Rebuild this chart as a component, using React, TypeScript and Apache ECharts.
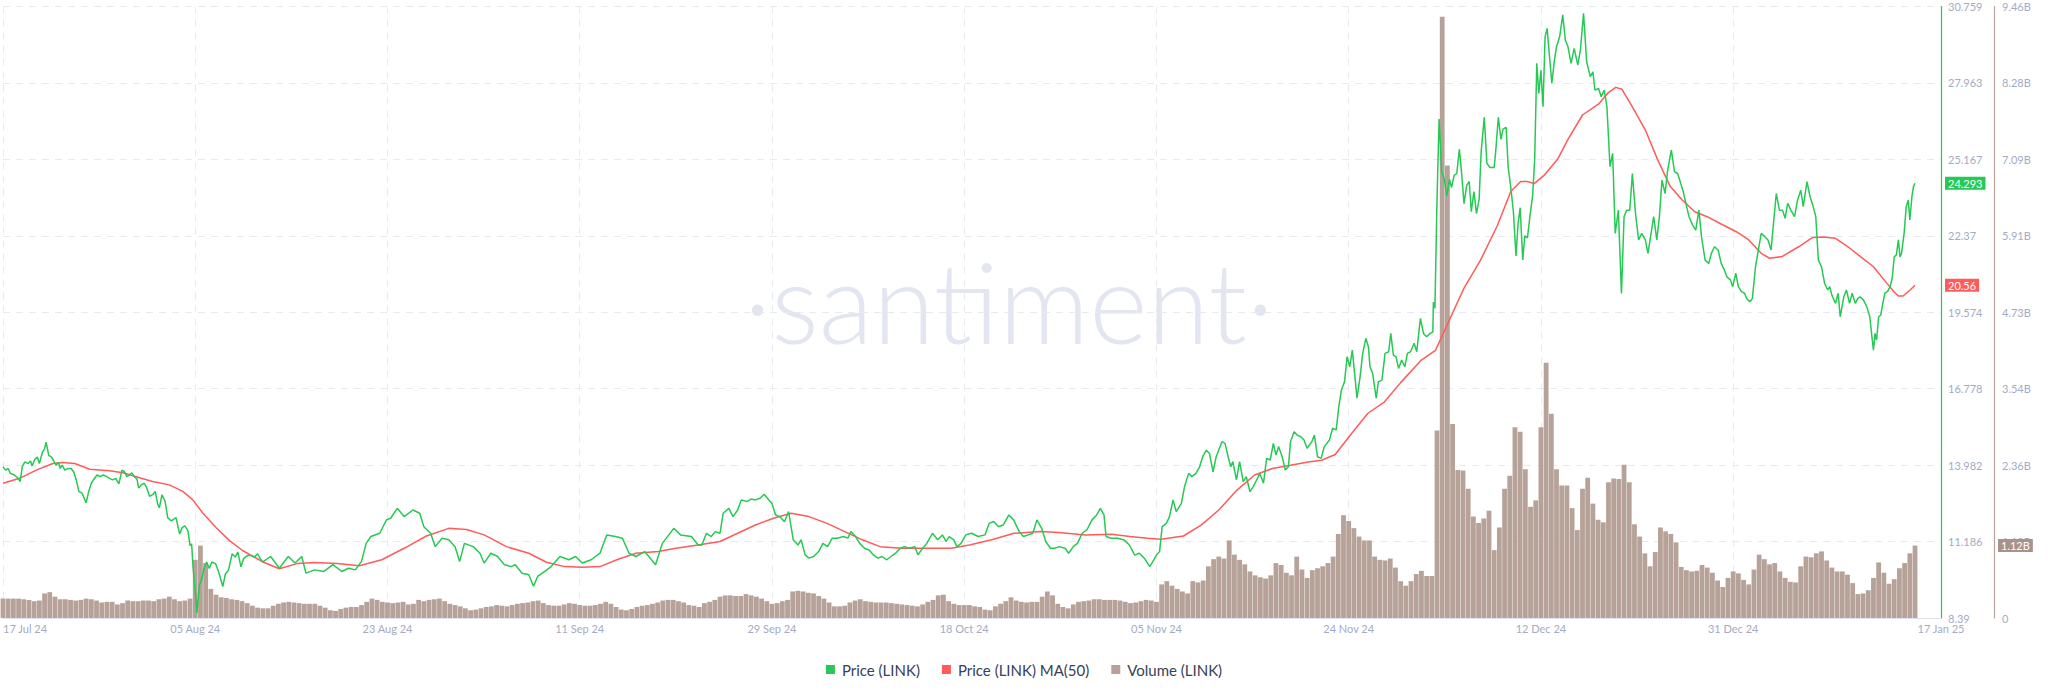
import React, { useEffect, useRef } from "react";
import * as echarts from "echarts";

// x unit: half-day steps counted from 17 Jul 24 12:00 (index 368 = 17 Jan 25 12:00)
const xTickIndex = [0, 37, 74, 111, 148, 185, 222, 259, 296, 333, 373];
const xTickLabels = [
  "17 Jul 24", "05 Aug 24", "23 Aug 24", "11 Sep 24", "29 Sep 24", "18 Oct 24",
  "05 Nov 24", "24 Nov 24", "12 Dec 24", "31 Dec 24", "17 Jan 25",
];
const priceTickLabels = ["8.39", "11.186", "13.982", "16.778", "19.574", "22.37", "25.167", "27.963", "30.759"];
const volumeTickLabels = ["0", "1.18B", "2.36B", "3.54B", "4.73B", "5.91B", "7.09B", "8.28B", "9.46B"];
const priceMin = 8.39;
const priceMax = 30.759;
const volumeMax = 9.46;

// Price (LINK): [half-day index, USD]
const price: [number, number][] = [
  [0,13.92],[0.5,13.80],[1.0,13.86],[1.4,13.68],[2.2,13.62],[2.9,13.50],[3.3,13.38],[3.7,13.92],[4.2,14.10],[4.8,14.04],
  [5.3,14.13],[5.6,13.95],[6.1,14.19],[6.6,14.28],[7.0,14.04],[7.6,14.46],[8.0,14.58],[8.3,14.82],[8.8,14.34],[9.3,14.28],
  [9.7,14.16],[10.2,13.98],[10.7,14.08],[11.0,13.86],[11.4,13.98],[11.9,13.80],[12.5,13.86],[13.1,13.86],[13.6,13.74],[14.1,13.44],
  [14.6,13.02],[15.2,12.96],[16.0,12.60],[16.5,13.02],[17.0,13.32],[17.4,13.44],[18.1,13.62],[18.7,13.56],[19.3,13.62],[20.0,13.56],
  [20.5,13.50],[21.1,13.44],[21.7,13.50],[22.3,13.30],[22.9,13.80],[23.4,13.74],[23.8,13.56],[24.3,13.62],[24.8,13.70],[25.3,13.56],
  [25.8,13.47],[26.1,13.14],[26.6,13.26],[27.2,13.32],[27.7,13.14],[28.2,12.84],[28.8,12.90],[29.3,13.02],[29.8,12.54],[30.1,12.42],
  [30.6,12.90],[31.2,12.66],[31.7,12.06],[32.4,11.94],[32.8,12.00],[33.3,12.06],[34.0,11.46],[34.5,11.70],[35.0,11.76],[35.6,11.58],
  [36.0,11.04],[36.3,11.10],[36.6,10.20],[37.0,9.36],[37.3,8.58],[37.8,9.60],[38.3,9.84],[38.7,10.20],[39.2,10.44],[39.7,10.20],
  [40.2,10.44],[40.9,10.38],[41.5,10.08],[42.3,9.54],[42.8,10.00],[43.4,10.14],[44.1,10.74],[44.7,10.62],[45.2,10.80],[45.8,10.26],
  [46.3,10.56],[47.1,10.68],[47.7,10.68],[48.4,10.62],[49.0,10.74],[49.5,10.56],[50.0,10.44],
  [51.5,10.64],[53.2,10.21],[54.9,10.64],[56.2,10.40],[57.5,10.64],[58.3,10.03],[60.0,10.15],[61.7,10.09],[63.5,10.34],[65.2,10.09],
  [66.5,10.21],[67.8,10.15],[69.0,10.46],[69.9,11.12],[70.8,11.37],[72.5,11.49],[73.8,11.98],[74.6,12.04],[75.9,12.40],[77.2,12.10],
  [78.9,12.34],[80.2,12.22],[81.0,11.73],[82.3,11.49],[83.2,11.00],[84.5,11.31],[85.8,11.25],[87.0,11.00],[87.9,10.46],[88.8,11.12],
  [90.5,11.00],[91.8,10.76],[92.6,10.40],[93.9,10.76],[95.2,10.64],[96.5,10.34],[97.8,10.27],[98.6,10.34],[99.9,10.03],[101.2,9.97],
  [102.1,9.55],[102.9,9.91],[104.2,10.09],[105.5,10.27],[107.2,10.64],[108.9,10.52],[110.2,10.64],[111.5,10.40],[113.2,10.52],[114.9,10.76],
  [116.2,11.43],[117.9,11.37],[119.2,11.31],[120.5,10.76],[121.8,10.64],[123.5,10.82],[125.6,10.34],[126.9,11.12],[129.1,11.67],[130.4,11.43],
  [132.5,11.37],[133.8,11.06],
  [134.5,11.06],[135.4,11.49],[136.3,11.37],[137.1,11.55],[138.0,11.49],[138.6,12.22],[139.7,12.40],[140.5,12.10],[141.4,12.34],[142.1,12.71],
  [143.1,12.65],[144.0,12.74],[144.8,12.71],[145.7,12.77],[146.5,12.92],[147.4,12.71],[148.0,12.58],[148.7,12.16],[149.5,12.10],[150.4,11.91],
  [151.2,12.28],[152.1,11.25],[153.0,11.06],[153.6,11.25],[154.4,10.70],[155.1,10.58],[156.0,10.64],[157.0,10.82],[157.8,11.12],[158.7,11.00],
  [159.6,11.31],[160.6,11.31],[161.8,11.37],[162.6,11.31],[163.2,11.55],[164.1,11.37],[164.9,11.12],[165.8,10.94],[166.7,10.88],[167.5,10.70],
  [168.4,10.58],[169.2,10.64],[170.1,10.52],[170.9,10.64],[171.8,10.76],[172.7,10.94],[173.5,11.00],[174.4,10.94],[175.5,11.00],[176.1,10.70],
  [177.0,10.94],[177.8,11.12],[178.9,11.49],[179.9,11.25],[180.8,11.43],[181.5,11.19],[182.1,11.37],[183.0,11.25],[183.6,11.00],[184.4,11.12],
  [185.3,11.43],[186.4,11.49],[187.7,11.37],[189.0,11.43],[189.8,11.85],[190.7,11.92],[191.6,11.73],[192.5,11.79],[193.6,12.16],[194.5,11.98],
  [195.6,11.55],[196.4,11.37],[197.3,11.43],[198.2,11.49],[199.0,11.98],[199.9,11.67],[200.7,11.19],[201.6,10.94],[202.4,10.94],[203.3,11.00],
  [204.4,10.94],[205.1,10.76],[206.0,11.00],[206.8,11.12],[207.7,11.49],[208.6,11.61],[209.6,11.98],[210.5,12.16],[211.2,12.40],[211.9,12.16],
  [212.3,11.37],[213.3,11.31],[214.6,11.31],[215.8,11.24],[216.8,11.06],[217.8,10.69],[218.7,10.76],[219.7,10.57],[220.7,10.27],[221.3,10.45],
  [222.0,10.69],[222.6,10.82],[223.1,11.73],[223.9,11.85],[224.5,12.09],[225.2,12.71],[225.8,12.28],[226.8,12.58],[227.4,13.19],[228.2,13.68],
  [228.8,13.56],[229.6,13.68],[230.3,13.92],[230.9,14.29],[231.6,14.53],[232.2,14.41],[232.9,13.74],[233.5,14.29],[234.6,14.84],[235.2,14.78],
  [235.8,14.29],[236.3,13.92],[236.7,14.11],[237.4,13.44],[238.0,14.11],[238.7,13.38],[239.3,13.56],[240.0,13.01],[240.6,13.19],[241.3,13.44],
  [241.9,13.68],[242.6,13.32],[243.2,14.23],[243.9,14.17],[244.5,14.78],[245.0,14.35],[245.5,14.66],[246.2,14.29],[246.8,13.80],[247.4,13.92],
  [247.8,14.84],[248.5,15.20],[249.1,15.08],[249.8,15.02],[250.4,14.90],[251.0,14.60],[251.9,14.84],[252.4,15.08],[253.0,14.29],[253.7,14.23],
  [254.3,14.66],[255.3,14.90],[255.9,15.33],[256.6,15.27],[257.1,16.12],[257.6,16.73],[258.2,17.03],[258.7,17.95],[259.2,17.58],[259.7,18.19],
  [260.2,17.22],[260.6,16.43],[261.2,17.22],[261.7,18.07],[262.3,18.62],[262.8,18.31],[263.1,17.58],[263.6,17.34],[264.3,16.43],[264.7,17.03],
  [265.4,17.09],[266.0,18.07],[266.7,18.13],[267.1,18.80],[267.6,18.01],[268.1,17.95],[268.6,17.52],[269.2,17.83],[269.8,17.58],[270.3,18.07],
  [270.9,18.13],[271.6,18.44],[272.1,18.13],[272.8,19.35],[273.4,18.80],[274.0,18.68],[274.7,18.80],[275.2,18.86],
  [275.3,19.94],[275.6,19.72],[276.0,23.70],[276.4,26.64],[276.9,24.73],[277.4,24.43],[277.9,23.84],[278.4,24.43],[278.8,24.14],[279.3,24.58],
  [279.8,24.65],[280.3,25.53],[280.7,24.73],[281.2,23.55],[281.7,24.21],[282.2,24.36],[282.6,23.25],[283.1,23.99],[283.6,23.18],[284.1,23.70],
  [284.5,25.46],[285.1,26.71],[285.6,25.02],[286.2,24.87],[287.0,24.87],[287.3,25.46],[287.8,26.71],[288.3,25.90],[288.7,26.27],[289.3,26.34],
  [289.7,24.87],[290.2,24.14],[290.7,23.25],[291.2,21.63],[291.6,22.81],[292.0,23.40],[292.5,21.49],[292.9,22.37],[293.4,22.29],[293.9,23.11],
  [294.4,23.84],[294.8,25.17],
  [295.2,28.68],[295.6,27.58],[296.0,28.43],[296.4,27.09],[296.8,29.65],[297.2,29.96],[297.6,29.04],[298.1,27.95],[298.6,28.80],[299.0,29.29],
  [299.6,29.65],[300.2,30.45],[300.7,29.53],[301.2,29.29],[301.8,28.68],[302.4,29.23],[303.1,28.62],[303.6,29.17],[304.2,30.51],[304.8,28.74],
  [305.5,28.19],[306.0,28.37],[306.4,27.70],[307.1,27.76],[307.6,27.46],[308.2,27.70],[308.7,27.09],[309.3,24.90],[309.8,25.39],[310.3,22.46],
  [310.9,23.31],[311.5,20.26],[312.0,23.07],[312.5,23.31],[313.1,23.31],[313.6,24.65],[314.2,23.19],[314.8,22.22],[315.4,22.46],[316.1,22.22],
  [316.6,21.73],[317.2,22.46],[317.7,23.07],[318.3,22.22],[318.8,23.07],[319.3,24.41],[319.9,23.92],[320.4,24.78],[321.1,25.51],[321.7,24.72],
  [322.3,24.65],[322.9,24.29],[323.4,23.98],[323.9,23.56],[324.5,23.07],[325.2,22.76],[325.8,22.58],[326.4,23.31],[326.9,22.34],[327.6,21.48],
  [328.3,21.36],[328.8,21.73],[329.4,21.97],[330.1,21.85],[330.7,21.36],[331.3,21.12],[331.8,20.87],[332.5,20.75],[332.9,20.51],[333.5,21.00],
  [334.0,20.51],[334.6,20.33],[335.2,20.27],[335.6,20.08],[336.2,19.96],[336.7,20.08],[337.3,21.24],[337.9,21.91],[338.4,22.46],[339.1,22.34],
  [339.7,22.22],[340.3,21.85],[340.7,22.70],[341.3,23.92],[341.9,23.31],[342.5,23.31],[343.0,23.01],[343.5,23.56],[344.1,23.31],[344.8,23.07],
  [345.4,23.68],[346.0,24.04],[346.5,23.44],[347.2,24.35],[347.8,23.80],[348.4,23.44],[348.9,23.07],[349.4,21.48],[350.0,21.24],[350.6,20.63],
  [351.2,20.39],[351.6,20.51],[352.0,20.20],[352.7,19.90],[353.2,20.27],[353.6,19.41],[354.3,20.14],[354.8,20.39],[355.4,19.90],[355.9,20.27],
  [356.5,19.90],[357.0,20.08],
  [357.4,20.14],[358.1,20.02],[358.7,19.78],[359.3,19.41],[359.7,18.68],[360.0,18.19],[360.3,18.80],[360.6,18.56],[361.0,19.41],[361.4,19.47],
  [361.8,19.90],[362.2,20.27],[362.7,20.33],[363.2,20.51],[363.6,20.81],[364.0,21.60],[364.4,21.67],[364.8,22.22],[365.1,21.60],[365.4,21.73],
  [365.9,22.46],[366.3,23.43],[366.7,23.68],[367.0,22.95],[367.4,23.80],[367.7,24.17],[368,24.293],
];

// Price (LINK) MA(50): [half-day index, USD]
const ma50: [number, number][] = [
  [0,13.32],[3.2,13.50],[6.4,13.80],[9.6,14.04],[11.5,14.08],[13.8,14.04],[16.7,13.83],[20.5,13.78],[23.1,13.70],[25.6,13.56],
  [28.8,13.38],[32.0,13.26],[34.6,13.02],[36.5,12.72],[38.4,12.24],[41.0,11.70],[43.6,11.22],[46.1,10.86],[50.0,10.44],[53.2,10.19],
  [56.6,10.38],[60.0,10.42],[64.3,10.38],[68.6,10.30],[72.9,10.52],[77.2,10.94],[81.5,11.39],[85.8,11.67],[89.2,11.63],[92.6,11.43],
  [96.9,11.00],[101.2,10.76],[104.6,10.43],[108.1,10.27],[111.5,10.25],[114.9,10.27],[118.4,10.54],[121.8,10.76],[126.1,10.82],[129.5,10.94],
  [133.8,11.06],[138.0,11.19],[141.4,11.49],[144.8,11.79],[148.3,12.04],[151.7,12.22],[155.1,12.10],[158.6,11.85],[162.0,11.55],[165.4,11.25],
  [168.8,11.00],[173.1,10.94],[177.4,10.94],[182.5,10.94],[186.0,11.06],[190.3,11.25],[194.6,11.49],[199.7,11.55],[203.2,11.52],[208.3,11.43],
  [213.4,11.45],[216.9,11.37],[220.3,11.31],[222.9,11.27],[227.2,11.39],[230.6,11.79],[234.0,12.34],[237.5,13.07],[240.9,13.62],[244.3,13.86],
  [247.8,13.98],[251.2,14.10],[253.8,14.16],[256.4,14.37],[259.6,15.15],[262.7,15.88],[265.9,16.30],[269.0,17.00],[272.9,17.81],[275.7,18.18],
  [278.0,19.13],[281.2,20.46],[284.4,21.49],[287.6,22.74],[290.2,23.99],[292.1,24.36],[293.4,24.36],[294.7,24.28],[296.6,24.58],[299.2,25.17],
  [301.2,25.90],[304.0,26.79],[307.2,27.21],[308.8,27.58],[310.4,27.80],[311.6,27.73],[313.6,27.09],[316.1,26.24],[318.5,25.14],[320.9,24.17],
  [323.2,23.68],[325.6,23.25],[328.0,23.07],[330.4,22.83],[333.6,22.52],[336.0,22.22],[338.4,21.73],[340.0,21.55],[342.4,21.61],[345.6,21.97],
  [348.3,22.31],[350.3,22.33],[352.7,22.28],[355.1,21.97],[357.5,21.61],[360.0,21.24],[362.6,20.63],[363.9,20.33],[364.8,20.17],[365.7,20.17],
  [367.0,20.38],[368,20.56],
];

// Volume (LINK), billions, one bar per half-day index 0..368
const volume: number[] = [
  0.30,0.30,0.30,0.30,0.29,0.28,0.26,0.27,0.38,0.40,
  0.33,0.29,0.29,0.28,0.27,0.28,0.30,0.29,0.27,0.24,
  0.25,0.25,0.21,0.23,0.27,0.26,0.26,0.27,0.27,0.26,
  0.29,0.30,0.33,0.29,0.26,0.27,0.30,0.90,1.12,0.85,
  0.45,0.36,0.32,0.31,0.29,0.28,0.26,0.23,0.19,0.16,
  0.15,0.15,0.19,0.22,0.24,0.25,0.24,0.23,0.22,0.22,
  0.22,0.19,0.16,0.12,0.11,0.14,0.16,0.17,0.17,0.20,
  0.25,0.30,0.28,0.25,0.24,0.23,0.24,0.25,0.21,0.22,
  0.28,0.26,0.28,0.29,0.30,0.26,0.22,0.20,0.18,0.15,
  0.12,0.13,0.15,0.17,0.18,0.20,0.19,0.18,0.20,0.22,
  0.23,0.24,0.26,0.27,0.23,0.20,0.19,0.19,0.21,0.23,
  0.22,0.20,0.19,0.19,0.20,0.22,0.25,0.22,0.17,0.13,
  0.12,0.14,0.17,0.19,0.20,0.22,0.24,0.27,0.28,0.28,
  0.26,0.24,0.20,0.19,0.17,0.23,0.25,0.28,0.33,0.35,
  0.35,0.34,0.34,0.37,0.35,0.33,0.30,0.26,0.22,0.23,
  0.26,0.28,0.41,0.42,0.41,0.39,0.38,0.34,0.30,0.24,
  0.18,0.18,0.19,0.24,0.27,0.29,0.26,0.25,0.24,0.24,
  0.24,0.23,0.22,0.21,0.20,0.19,0.18,0.21,0.25,0.28,
  0.35,0.36,0.26,0.22,0.20,0.20,0.20,0.18,0.17,0.13,
  0.12,0.18,0.22,0.26,0.32,0.27,0.25,0.24,0.25,0.25,
  0.33,0.41,0.35,0.22,0.17,0.15,0.21,0.25,0.26,0.27,
  0.29,0.29,0.28,0.28,0.28,0.27,0.25,0.23,0.24,0.26,
  0.28,0.27,0.25,0.52,0.57,0.50,0.45,0.41,0.38,0.57,
  0.55,0.58,0.80,0.91,0.95,0.92,1.20,0.98,0.90,0.83,
  0.72,0.66,0.63,0.61,0.66,0.85,0.82,0.70,0.66,0.95,
  0.75,0.62,0.74,0.77,0.80,0.85,0.95,1.30,1.59,1.50,
  1.39,1.26,1.20,1.20,0.95,0.90,0.89,0.92,0.78,0.57,
  0.50,0.57,0.68,0.73,0.65,0.65,2.90,9.30,7.00,3.00,
  2.29,2.28,2.00,1.57,1.47,1.54,1.66,1.05,1.40,2.00,
  2.20,2.95,2.88,2.30,1.72,1.82,2.95,3.95,3.16,2.30,
  2.05,2.05,1.70,1.36,2.00,2.17,1.77,1.52,1.48,2.10,
  2.16,2.15,2.37,2.10,1.45,1.26,1.00,0.80,1.02,1.40,
  1.34,1.30,1.17,0.79,0.74,0.72,0.73,0.82,0.78,0.70,
  0.58,0.48,0.62,0.72,0.69,0.59,0.52,0.75,0.98,0.91,
  0.83,0.85,0.72,0.62,0.56,0.55,0.80,0.95,0.94,1.00,
  1.03,0.89,0.78,0.72,0.72,0.67,0.54,0.37,0.38,0.43,
  0.62,0.86,0.70,0.53,0.60,0.77,0.85,1.00,1.12,
];

const GREEN = "#26c953";
const RED = "#ff5b5b";
const BROWN = "#b6a298";
const BADGE_BROWN = "#a8938a";
const LABEL = "#a3abc4";
const GRID = "#e7eaf3";
const FONT = "Lato, 'Noto Sans', sans-serif";

const priceInterval = (priceMax - priceMin) / 8;
const volumeInterval = volumeMax / 8;

export default function App() {
  const ref = useRef<HTMLDivElement>(null);

  useEffect(() => {
    if (!ref.current) return;
    const chart = echarts.init(ref.current, null, { renderer: "svg" });
    const gridColors = xTickIndex.slice(0, 10).map(() => GRID).concat(["rgba(0,0,0,0)"]);

    chart.setOption({
      animation: false,
      backgroundColor: "#ffffff",
      textStyle: { fontFamily: FONT },
      grid: { left: 0, right: 107, top: 6.5, bottom: 75, containLabel: false },
      legend: {
        top: 657,
        left: "center",
        icon: "rect",
        itemWidth: 9,
        itemHeight: 9,
        itemGap: 22,
        data: ["Price (LINK)", "Price (LINK) MA(50)", "Volume (LINK)"],
        textStyle: { color: "#3a4057", fontSize: 15, fontFamily: FONT, padding: [0, 0, 0, 2] },
      },
      xAxis: {
        type: "value",
        min: 0,
        max: 373,
        interval: 37,
        axisLine: { show: true, onZero: false, lineStyle: { color: "#dfe3ee", width: 1 } },
        axisTick: { show: false },
        axisLabel: {
          color: LABEL,
          fontSize: 11,
          margin: 5,
          showMaxLabel: true,
          alignMinLabel: "left",
          formatter: (v: number) => {
            const k = xTickIndex.indexOf(Math.round(v));
            return k >= 0 ? xTickLabels[k] : "";
          },
        },
        splitLine: {
          show: true,
          showMaxLine: false,
          lineStyle: { color: gridColors, type: [7, 6], width: 1 },
        },
      },
      yAxis: [
        {
          type: "value",
          position: "right",
          min: priceMin,
          max: priceMax,
          interval: priceInterval,
          axisLine: { show: true, onZero: false, lineStyle: { color: GREEN, width: 1.2 } },
          axisTick: { show: false },
          axisLabel: {
            color: LABEL,
            fontSize: 11,
            margin: 7,
            formatter: (v: number) => priceTickLabels[Math.round((v - priceMin) / priceInterval)] ?? "",
          },
          splitLine: { show: true, lineStyle: { color: GRID, type: [7, 6], width: 1 } },
        },
        {
          type: "value",
          position: "right",
          offset: 53,
          min: 0,
          max: volumeMax,
          interval: volumeInterval,
          axisLine: { show: true, onZero: false, lineStyle: { color: BROWN, width: 1.2 } },
          axisTick: { show: false },
          axisLabel: {
            color: LABEL,
            fontSize: 11,
            margin: 8,
            formatter: (v: number) => volumeTickLabels[Math.round(v / volumeInterval)] ?? "",
          },
          splitLine: { show: false },
        },
      ],
      series: [
        {
          name: "Volume (LINK)",
          type: "bar",
          yAxisIndex: 1,
          data: volume.map((v, i) => [i, v]),
          barWidth: 4.8,
          itemStyle: { color: BROWN },
          z: 1,
        },
        {
          name: "Price (LINK) MA(50)",
          type: "line",
          yAxisIndex: 0,
          data: ma50,
          symbol: "none",
          showSymbol: false,
          lineStyle: { color: RED, width: 1.5 },
          itemStyle: { color: RED },
          z: 3,
        },
        {
          name: "Price (LINK)",
          type: "line",
          yAxisIndex: 0,
          data: price,
          symbol: "none",
          showSymbol: false,
          lineStyle: { color: GREEN, width: 1.5 },
          itemStyle: { color: GREEN },
          z: 4,
        },
      ],
    });

    const lastPrice = price[price.length - 1][1];
    const lastMa = ma50[ma50.length - 1][1];
    const lastVol = volume[volume.length - 1];
    const yP = chart.convertToPixel({ yAxisIndex: 0 }, lastPrice) as number;
    const yM = chart.convertToPixel({ yAxisIndex: 0 }, lastMa) as number;
    const yV = chart.convertToPixel({ yAxisIndex: 1 }, lastVol) as number;

    const badge = (x: number, y: number, text: string, bg: string) => ({
      type: "text",
      x,
      y,
      z: 100,
      style: {
        text,
        fill: "#ffffff",
        backgroundColor: bg,
        padding: [1, 3, 1, 3],
        fontSize: 11,
        lineHeight: 11,
        fontFamily: FONT,
        verticalAlign: "middle",
        align: "left",
      },
    });

    chart.setOption({
      graphic: [
        {
          type: "text",
          x: 1009,
          y: 300,
          z: -10,
          silent: true,
          style: {
            text: "·santiment·",
            fill: "#e3e6f1",
            fontSize: 112,
            fontWeight: 300,
            fontFamily: "Lato, Roboto, sans-serif",
            align: "center",
            verticalAlign: "middle",
          },
        },
        badge(1945, yP, lastPrice.toFixed(3), GREEN),
        badge(1945, yM, lastMa.toFixed(2), RED),
        badge(1998, yV, lastVol.toFixed(2) + "B", BADGE_BROWN),
      ],
    });

    return () => chart.dispose();
  }, []);

  return (
    <div
      ref={ref}
      style={{ position: "absolute", left: 0, top: 0, width: 2048, height: 693, background: "#ffffff" }}
    />
  );
}
